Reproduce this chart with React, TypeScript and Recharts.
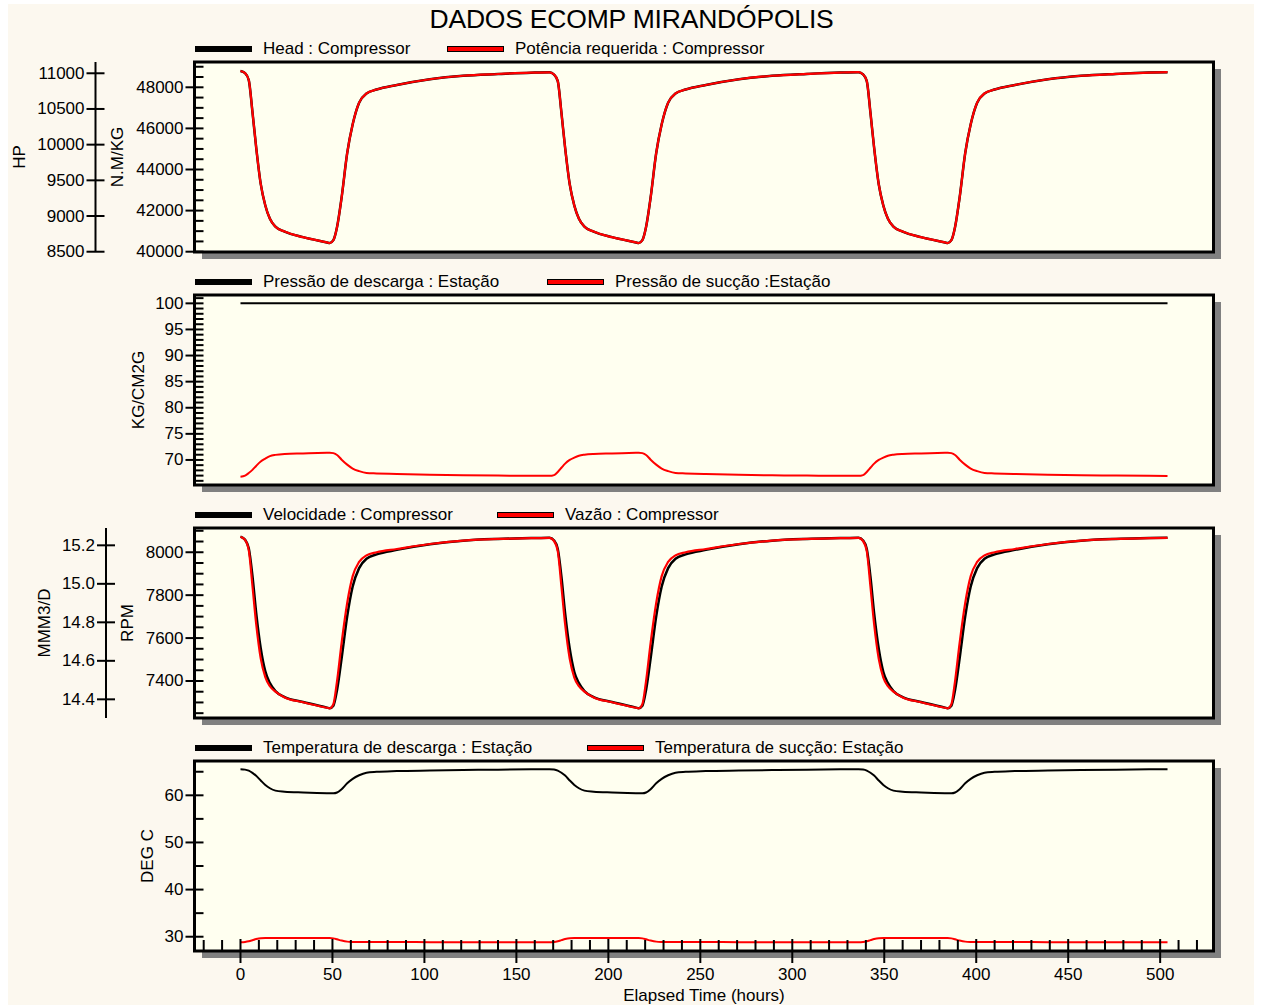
import React from "react";
import { Legend, Line, LineChart, ReferenceArea, XAxis, YAxis } from "recharts";

// Simulation output, one row per time step (hours).
const HOURS = [
  0, 2.5, 4.5, 6.5, 8.5, 11, 13.5, 16, 19, 24, 34, 47, 48.5, 50.5, 52.5, 55, 58, 61, 64.5, 68.5, 74, 85, 103, 121, 140, 158,
  168, 170.5, 172.5, 174.5, 176.5, 179, 181.5, 184, 187, 192, 202, 215, 216.5, 218.5, 220.5, 223, 226, 229, 232.5, 236.5, 242, 253, 271, 289, 308, 326,
  336, 338.5, 340.5, 342.5, 344.5, 347, 349.5, 352, 355, 360, 370, 383, 384.5, 386.5, 388.5, 391, 394, 397, 400.5, 404.5, 410, 421, 439, 457, 476, 494, 504,
];

// N.M/KG
const HEAD = [
  48790, 48690, 48350, 46800, 45100, 43300, 42250, 41600, 41220, 40980, 40710, 40450, 40420, 40560, 41200, 42650, 44790, 46200, 47250, 47700, 47890, 48110, 48390, 48560, 48645, 48710,
  48730, 48620, 48300, 46750, 45050, 43280, 42240, 41600, 41220, 40980, 40710, 40450, 40420, 40560, 41200, 42650, 44790, 46200, 47250, 47700, 47890, 48110, 48390, 48560, 48650, 48715,
  48735, 48625, 48300, 46750, 45050, 43280, 42240, 41600, 41220, 40980, 40710, 40450, 40420, 40560, 41200, 42650, 44790, 46200, 47250, 47700, 47890, 48110, 48390, 48560, 48650, 48715, 48735,
];

// HP
const POTENCIA = [
  11032, 11003, 10905, 10458, 9969, 9450, 9148, 8961, 8851, 8782, 8704, 8630, 8621, 8661, 8846, 9263, 9880, 10286, 10588, 10718, 10772, 10836, 10916, 10965, 10990, 11008,
  11014, 10983, 10890, 10444, 9955, 9445, 9145, 8961, 8851, 8782, 8704, 8630, 8621, 8661, 8846, 9263, 9880, 10286, 10588, 10718, 10772, 10836, 10916, 10965, 10991, 11010,
  11015, 10984, 10890, 10444, 9955, 9445, 9145, 8961, 8851, 8782, 8704, 8630, 8621, 8661, 8846, 9263, 9880, 10286, 10588, 10718, 10772, 10836, 10916, 10965, 10991, 11010, 11015,
];

// KG/CM2G, discharge pressure is held flat
const DESCARGA_HOURS = [0, 504];
const PRESSAO_DESCARGA = [100, 100];
const PRESSAO_SUCCAO = [
  66.8, 67.0, 67.5, 68.1, 68.85, 69.7, 70.25, 70.72, 70.97, 71.15, 71.25, 71.38, 71.4, 71.3, 70.95, 70.05, 69.1, 68.35, 67.85, 67.5, 67.42, 67.3, 67.15, 67.05, 67.0, 66.95,
  66.95, 67.1, 67.7, 68.5, 69.3, 70.0, 70.45, 70.8, 71.0, 71.15, 71.25, 71.38, 71.4, 71.3, 70.95, 70.05, 69.1, 68.35, 67.85, 67.5, 67.42, 67.3, 67.15, 67.05, 67.0, 66.95,
  66.95, 67.1, 67.7, 68.5, 69.3, 70.0, 70.45, 70.8, 71.0, 71.15, 71.25, 71.38, 71.4, 71.3, 70.95, 70.05, 69.1, 68.35, 67.85, 67.5, 67.42, 67.3, 67.15, 67.05, 67.0, 66.95, 66.93,
];

// RPM
const VELOCIDADE = [
  8073, 8058, 8019, 7890, 7720, 7553, 7445, 7390, 7353, 7325, 7302, 7276, 7273, 7285, 7358, 7507, 7700, 7840, 7926, 7970, 7990, 8011, 8037, 8054, 8062, 8066,
  8068, 8055, 8015, 7885, 7715, 7550, 7442, 7390, 7353, 7325, 7302, 7276, 7273, 7285, 7358, 7507, 7700, 7840, 7926, 7970, 7990, 8011, 8037, 8054, 8062, 8066,
  8068, 8055, 8015, 7885, 7715, 7550, 7442, 7390, 7353, 7325, 7302, 7276, 7273, 7285, 7358, 7507, 7700, 7840, 7926, 7970, 7990, 8011, 8037, 8054, 8062, 8066, 8068,
];

// MMM3/D
const VAZAO = [
  15.245, 15.228, 15.175, 14.99, 14.795, 14.613, 14.515, 14.468, 14.44, 14.41, 14.385, 14.356, 14.353, 14.375, 14.495, 14.695, 14.9, 15.04, 15.114, 15.148, 15.164, 15.181, 15.207, 15.224, 15.233, 15.237,
  15.239, 15.222, 15.17, 14.985, 14.79, 14.61, 14.513, 14.468, 14.44, 14.41, 14.385, 14.356, 14.353, 14.375, 14.495, 14.695, 14.9, 15.04, 15.114, 15.148, 15.164, 15.181, 15.207, 15.224, 15.233, 15.237,
  15.239, 15.222, 15.17, 14.985, 14.79, 14.61, 14.513, 14.468, 14.44, 14.41, 14.385, 14.356, 14.353, 14.375, 14.495, 14.695, 14.9, 15.04, 15.114, 15.148, 15.164, 15.181, 15.207, 15.224, 15.233, 15.237, 15.239,
];

// DEG C
const TEMP_DESCARGA = [
  65.52, 65.45, 65.22, 64.75, 64.15, 63.15, 62.2, 61.5, 61.0, 60.78, 60.6, 60.45, 60.43, 60.42, 60.6, 61.3, 62.55, 63.5, 64.25, 64.78, 64.98, 65.14, 65.26, 65.36, 65.45, 65.52,
  65.55, 65.48, 65.25, 64.78, 64.18, 63.15, 62.2, 61.5, 61.0, 60.78, 60.6, 60.45, 60.43, 60.42, 60.6, 61.3, 62.55, 63.5, 64.25, 64.78, 64.98, 65.14, 65.26, 65.36, 65.45, 65.52,
  65.55, 65.48, 65.25, 64.78, 64.18, 63.15, 62.2, 61.5, 61.0, 60.78, 60.6, 60.45, 60.43, 60.42, 60.6, 61.3, 62.55, 63.5, 64.25, 64.78, 64.98, 65.14, 65.26, 65.36, 65.45, 65.52, 65.55,
];
const TEMP_SUCCAO = [
  28.81, 28.88, 29.02, 29.25, 29.5, 29.7, 29.74, 29.74, 29.73, 29.73, 29.72, 29.72, 29.72, 29.65, 29.45, 29.18, 28.96, 28.9, 28.88, 28.87, 28.86, 28.86, 28.85, 28.85, 28.84, 28.84,
  28.84, 28.9, 29.05, 29.28, 29.52, 29.7, 29.74, 29.74, 29.73, 29.73, 29.72, 29.72, 29.72, 29.65, 29.45, 29.18, 28.96, 28.9, 28.88, 28.87, 28.86, 28.86, 28.85, 28.85, 28.84, 28.84,
  28.84, 28.9, 29.05, 29.28, 29.52, 29.7, 29.74, 29.74, 29.73, 29.73, 29.72, 29.72, 29.72, 29.65, 29.45, 29.18, 28.96, 28.9, 28.88, 28.87, 28.86, 28.86, 28.85, 28.85, 28.84, 28.84, 28.82,
];

// axis ticks
const X_MAJOR = [0, 50, 100, 150, 200, 250, 300, 350, 400, 450, 500];
const X_MINOR = [
  -20, -10, 10, 20, 30, 40, 60, 70, 80, 90, 110, 120, 130, 140, 160, 170, 180, 190, 210, 220, 230, 240,
  260, 270, 280, 290, 310, 320, 330, 340, 360, 370, 380, 390, 410, 420, 430, 440, 460, 470, 480, 490, 510, 520,
];
const NMKG_MAJOR = [40000, 42000, 44000, 46000, 48000];
const NMKG_MINOR = [40500, 41000, 41500, 42500, 43000, 43500, 44500, 45000, 45500, 46500, 47000, 47500, 48500, 49000];
const HP_MAJOR = [8500, 9000, 9500, 10000, 10500, 11000];
const KG_MAJOR = [70, 75, 80, 85, 90, 95, 100];
const KG_MINOR = [
  66, 67, 68, 69, 71, 72, 73, 74, 76, 77, 78, 79, 81, 82, 83, 84, 86, 87, 88, 89, 91, 92, 93, 94, 96, 97, 98, 99, 101,
];
const RPM_MAJOR = [7400, 7600, 7800, 8000];
const RPM_MINOR = [7250, 7300, 7350, 7450, 7500, 7550, 7650, 7700, 7750, 7850, 7900, 7950, 8050, 8100];
const MMM_MAJOR = [14.4, 14.6, 14.8, 15.0, 15.2];
const DEG_MAJOR = [30, 40, 50, 60];
const DEG_MINOR = [35, 45, 55, 65];

const X_DOMAIN: [number, number] = [-25, 529];
const NMKG_DOMAIN: [number, number] = [39985, 49231];
const HP_DOMAIN: [number, number] = [8496, 11158];
const KG_DOMAIN: [number, number] = [65.2, 101.6];
const RPM_DOMAIN: [number, number] = [7227.5, 8113];
const MMM_DOMAIN: [number, number] = [14.303, 15.29];
const DEG_DOMAIN: [number, number] = [26.97, 67.28];

const ROWS = HOURS.map((t, i) => ({
  t,
  head: HEAD[i],
  potencia: POTENCIA[i],
  succao: PRESSAO_SUCCAO[i],
  velocidade: VELOCIDADE[i],
  vazao: VAZAO[i],
  tDescarga: TEMP_DESCARGA[i],
  tSuccao: TEMP_SUCCAO[i],
}));
const DESCARGA_ROWS = DESCARGA_HOURS.map((t, i) => ({ t, descarga: PRESSAO_DESCARGA[i] }));

const FONT = '"Liberation Sans", Arial, sans-serif';
const FS = 17;
const PAGE_BG = "#FCF8EF";
const PLOT_BG = "#FFFFF0";
const RED = "#FF0000";

const CHART_W = 1262;
const PLOT_LEFT = 194.5;
const PLOT_W = 1019;
const PLOT_H = 190;
const PANEL_TOPS = [62, 295, 528, 761];
const MARGIN = { top: 40, right: CHART_W - PLOT_LEFT - PLOT_W, bottom: 10, left: 10 };

function innerTick(majors: number[]) {
  return (props: any) => {
    const { x, y, payload } = props;
    const major = majors.includes(payload.value);
    return (
      <g>
        <line x1={major ? x - 9 : x} x2={x + 9} y1={y} y2={y} stroke="#000" strokeWidth={2} />
        {major && (
          <text x={x - 11} y={y} textAnchor="end" dominantBaseline="central" fontSize={FS} fill="#000">
            {payload.value}
          </text>
        )}
      </g>
    );
  };
}

function crossTick(fmt: (v: number) => string) {
  return (props: any) => {
    const { x, y, payload } = props;
    return (
      <g>
        <line x1={x - 9} x2={x + 9} y1={y} y2={y} stroke="#000" strokeWidth={2} />
        <text x={x - 11} y={y} textAnchor="end" dominantBaseline="central" fontSize={FS} fill="#000">
          {fmt(payload.value)}
        </text>
      </g>
    );
  };
}

function xTick(props: any) {
  const { x, y, payload } = props;
  const major = X_MAJOR.includes(payload.value);
  return (
    <g>
      <line x1={x} x2={x} y1={y - (major ? 12 : 11)} y2={major ? y + 12 : y} stroke="#000" strokeWidth={2} />
      {major && (
        <text x={x} y={y + 23} textAnchor="middle" dominantBaseline="central" fontSize={FS} fill="#000">
          {payload.value}
        </text>
      )}
    </g>
  );
}

// rotated axis title, dx measured from the left edge of the axis box
function axisTitle(text: string, dx: number) {
  return (props: any) => {
    const vb = props.viewBox || { x: 0, y: 0, width: 0, height: 0 };
    const cx = vb.x + dx;
    const cy = vb.y + vb.height / 2;
    return (
      <text
        x={cx}
        y={cy}
        transform={`rotate(-90 ${cx} ${cy})`}
        textAnchor="middle"
        dominantBaseline="central"
        fontSize={FS}
        fill="#000"
      >
        {text}
      </text>
    );
  };
}

function xTitle(props: any) {
  const vb = props.viewBox || { x: 0, y: 0, width: 0, height: 0 };
  return (
    <text x={vb.x + vb.width / 2} y={vb.y + 44} textAnchor="middle" dominantBaseline="central" fontSize={FS} fill="#000">
      Elapsed Time (hours)
    </text>
  );
}

// legend items kept in series order (black first), second item placed at secondLeft
function legendContent(order: string[], secondLeft: number) {
  return (props: any) => {
    const items = [...(props.payload || [])].sort((a: any, b: any) => order.indexOf(a.value) - order.indexOf(b.value));
    return (
      <div style={{ position: "relative", height: 20, fontFamily: FONT, fontSize: FS, color: "#000" }}>
        {items.map((it: any, i: number) => {
          const red = it.color !== "#000";
          return (
            <div
              key={it.value}
              style={{
                position: "absolute",
                left: i === 0 ? 0 : secondLeft,
                top: 0,
                height: 20,
                display: "flex",
                alignItems: "center",
                whiteSpace: "nowrap",
              }}
            >
              <span
                style={{
                  display: "inline-block",
                  boxSizing: "border-box",
                  width: 57,
                  height: 6,
                  background: red ? it.color : "#000",
                  border: red ? "1px solid #000" : "none",
                }}
              />
              <span style={{ marginLeft: 11, lineHeight: "20px" }}>{it.value}</span>
            </div>
          );
        })}
      </div>
    );
  };
}

function PlotBox({ top }: { top: number }) {
  return (
    <>
      <div
        style={{ position: "absolute", left: PLOT_LEFT + 7, top: top + 6.5, width: PLOT_W, height: PLOT_H, background: "#808080" }}
      />
      <div style={{ position: "absolute", left: PLOT_LEFT, top, width: PLOT_W, height: PLOT_H, background: PLOT_BG }} />
    </>
  );
}

function legendFor(order: string[], secondLeft: number) {
  return (
    <Legend
      layout="vertical"
      verticalAlign="middle"
      align="center"
      wrapperStyle={{ top: 17, left: 195, width: 900, height: 20 }}
      content={legendContent(order, secondLeft)}
    />
  );
}

const NAMES_1 = ["Head : Compressor", "Potência requerida : Compressor"];
const NAMES_2 = ["Pressão de descarga : Estação", "Pressão de sucção :Estação"];
const NAMES_3 = ["Velocidade : Compressor", "Vazão : Compressor"];
const NAMES_4 = ["Temperatura de descarga : Estação", "Temperatura de sucção: Estação"];

export default function App() {
  const lineBase = { type: "monotone" as const, dot: false, activeDot: false, isAnimationActive: false };
  const yBase = { tickLine: false, tickSize: 0, tickMargin: 0, interval: 0 as const, allowDataOverflow: true, type: "number" as const };

  // axis ids: the one sorting first sits next to the plot
  return (
    <div style={{ position: "absolute", left: 0, top: 0, width: 1262, height: 1007, fontFamily: FONT }}>
      <div style={{ position: "absolute", left: 8, top: 4, width: 1246, height: 1001, background: PAGE_BG }} />
      <div
        style={{
          position: "absolute",
          left: 0,
          top: 4,
          width: 1263,
          textAlign: "center",
          fontSize: 26.5,
          lineHeight: "30px",
          color: "#000",
          letterSpacing: -0.2,
        }}
      >
        DADOS ECOMP MIRANDÓPOLIS
      </div>

      {PANEL_TOPS.map((t) => (
        <PlotBox key={t} top={t} />
      ))}

      {/* Head / Potência */}
      <div style={{ position: "absolute", left: 0, top: PANEL_TOPS[0] - 40 }}>
        <LineChart width={CHART_W} height={240} data={ROWS} margin={MARGIN}>
          <XAxis type="number" dataKey="t" domain={X_DOMAIN} allowDataOverflow hide />
          <YAxis
            {...yBase}
            yAxisId="a_nmkg"
            width={99}
            domain={NMKG_DOMAIN}
            ticks={[...NMKG_MAJOR, ...NMKG_MINOR].sort((a, b) => a - b)}
            axisLine={false}
            tick={innerTick(NMKG_MAJOR)}
            label={{ content: axisTitle("N.M/KG", 21.5) }}
          />
          <YAxis
            {...yBase}
            yAxisId="b_hp"
            width={85.5}
            domain={HP_DOMAIN}
            ticks={HP_MAJOR}
            axisLine={{ stroke: "#000", strokeWidth: 2 }}
            tick={crossTick(String)}
            label={{ content: axisTitle("HP", 9) }}
          />
          <ReferenceArea
            yAxisId="a_nmkg"
            x1={X_DOMAIN[0]}
            x2={X_DOMAIN[1]}
            y1={NMKG_DOMAIN[0]}
            y2={NMKG_DOMAIN[1]}
            fill="none"
            stroke="#000"
            strokeWidth={3}
          />
          <Line {...lineBase} yAxisId="a_nmkg" dataKey="head" name={NAMES_1[0]} stroke="#000" strokeWidth={2.5} />
          <Line {...lineBase} yAxisId="b_hp" dataKey="potencia" name={NAMES_1[1]} stroke={RED} strokeWidth={2.2} />
          {legendFor(NAMES_1, 252)}
        </LineChart>
      </div>

      {/* Pressões */}
      <div style={{ position: "absolute", left: 0, top: PANEL_TOPS[1] - 40 }}>
        <LineChart width={CHART_W} height={240} data={ROWS} margin={MARGIN}>
          <XAxis type="number" dataKey="t" domain={X_DOMAIN} allowDataOverflow hide />
          <YAxis
            {...yBase}
            yAxisId="kg"
            width={184.5}
            domain={KG_DOMAIN}
            ticks={[...KG_MAJOR, ...KG_MINOR].sort((a, b) => a - b)}
            axisLine={false}
            tick={innerTick(KG_MAJOR)}
            label={{ content: axisTitle("KG/CM2G", 128) }}
          />
          <ReferenceArea
            yAxisId="kg"
            x1={X_DOMAIN[0]}
            x2={X_DOMAIN[1]}
            y1={KG_DOMAIN[0]}
            y2={KG_DOMAIN[1]}
            fill="none"
            stroke="#000"
            strokeWidth={3}
          />
          <Line
            {...lineBase}
            yAxisId="kg"
            data={DESCARGA_ROWS}
            dataKey="descarga"
            name={NAMES_2[0]}
            stroke="#000"
            strokeWidth={2}
          />
          <Line {...lineBase} yAxisId="kg" dataKey="succao" name={NAMES_2[1]} stroke={RED} strokeWidth={2} />
          {legendFor(NAMES_2, 352)}
        </LineChart>
      </div>

      {/* Velocidade / Vazão */}
      <div style={{ position: "absolute", left: 0, top: PANEL_TOPS[2] - 40 }}>
        <LineChart width={CHART_W} height={240} data={ROWS} margin={MARGIN}>
          <XAxis type="number" dataKey="t" domain={X_DOMAIN} allowDataOverflow hide />
          <YAxis
            {...yBase}
            yAxisId="a_rpm"
            width={88.5}
            domain={RPM_DOMAIN}
            ticks={[...RPM_MAJOR, ...RPM_MINOR].sort((a, b) => a - b)}
            axisLine={false}
            tick={innerTick(RPM_MAJOR)}
            label={{ content: axisTitle("RPM", 21) }}
          />
          <YAxis
            {...yBase}
            yAxisId="b_mmm"
            width={96}
            domain={MMM_DOMAIN}
            ticks={MMM_MAJOR}
            axisLine={{ stroke: "#000", strokeWidth: 2 }}
            tick={crossTick((v) => v.toFixed(1))}
            label={{ content: axisTitle("MMM3/D", 34) }}
          />
          <ReferenceArea
            yAxisId="a_rpm"
            x1={X_DOMAIN[0]}
            x2={X_DOMAIN[1]}
            y1={RPM_DOMAIN[0]}
            y2={RPM_DOMAIN[1]}
            fill="none"
            stroke="#000"
            strokeWidth={3}
          />
          <Line {...lineBase} yAxisId="a_rpm" dataKey="velocidade" name={NAMES_3[0]} stroke="#000" strokeWidth={2.5} />
          <Line {...lineBase} yAxisId="b_mmm" dataKey="vazao" name={NAMES_3[1]} stroke={RED} strokeWidth={2.2} />
          {legendFor(NAMES_3, 302)}
        </LineChart>
      </div>

      {/* Temperaturas */}
      <div style={{ position: "absolute", left: 0, top: PANEL_TOPS[3] - 40 }}>
        <LineChart width={CHART_W} height={290} data={ROWS} margin={{ ...MARGIN, bottom: 0 }}>
          <XAxis
            type="number"
            dataKey="t"
            domain={X_DOMAIN}
            allowDataOverflow
            ticks={[...X_MAJOR, ...X_MINOR].sort((a, b) => a - b)}
            interval={0}
            height={60}
            tickLine={false}
            tickSize={0}
            tickMargin={0}
            axisLine={false}
            tick={xTick}
            label={{ content: xTitle }}
          />
          <YAxis
            {...yBase}
            yAxisId="deg"
            width={184.5}
            domain={DEG_DOMAIN}
            ticks={[...DEG_MAJOR, ...DEG_MINOR].sort((a, b) => a - b)}
            axisLine={false}
            tick={innerTick(DEG_MAJOR)}
            label={{ content: axisTitle("DEG C", 137) }}
          />
          <ReferenceArea
            yAxisId="deg"
            x1={X_DOMAIN[0]}
            x2={X_DOMAIN[1]}
            y1={DEG_DOMAIN[0]}
            y2={DEG_DOMAIN[1]}
            fill="none"
            stroke="#000"
            strokeWidth={3}
          />
          <Line {...lineBase} yAxisId="deg" dataKey="tDescarga" name={NAMES_4[0]} stroke="#000" strokeWidth={2} />
          <Line {...lineBase} yAxisId="deg" dataKey="tSuccao" name={NAMES_4[1]} stroke={RED} strokeWidth={2} />
          {legendFor(NAMES_4, 392)}
        </LineChart>
      </div>
    </div>
  );
}
